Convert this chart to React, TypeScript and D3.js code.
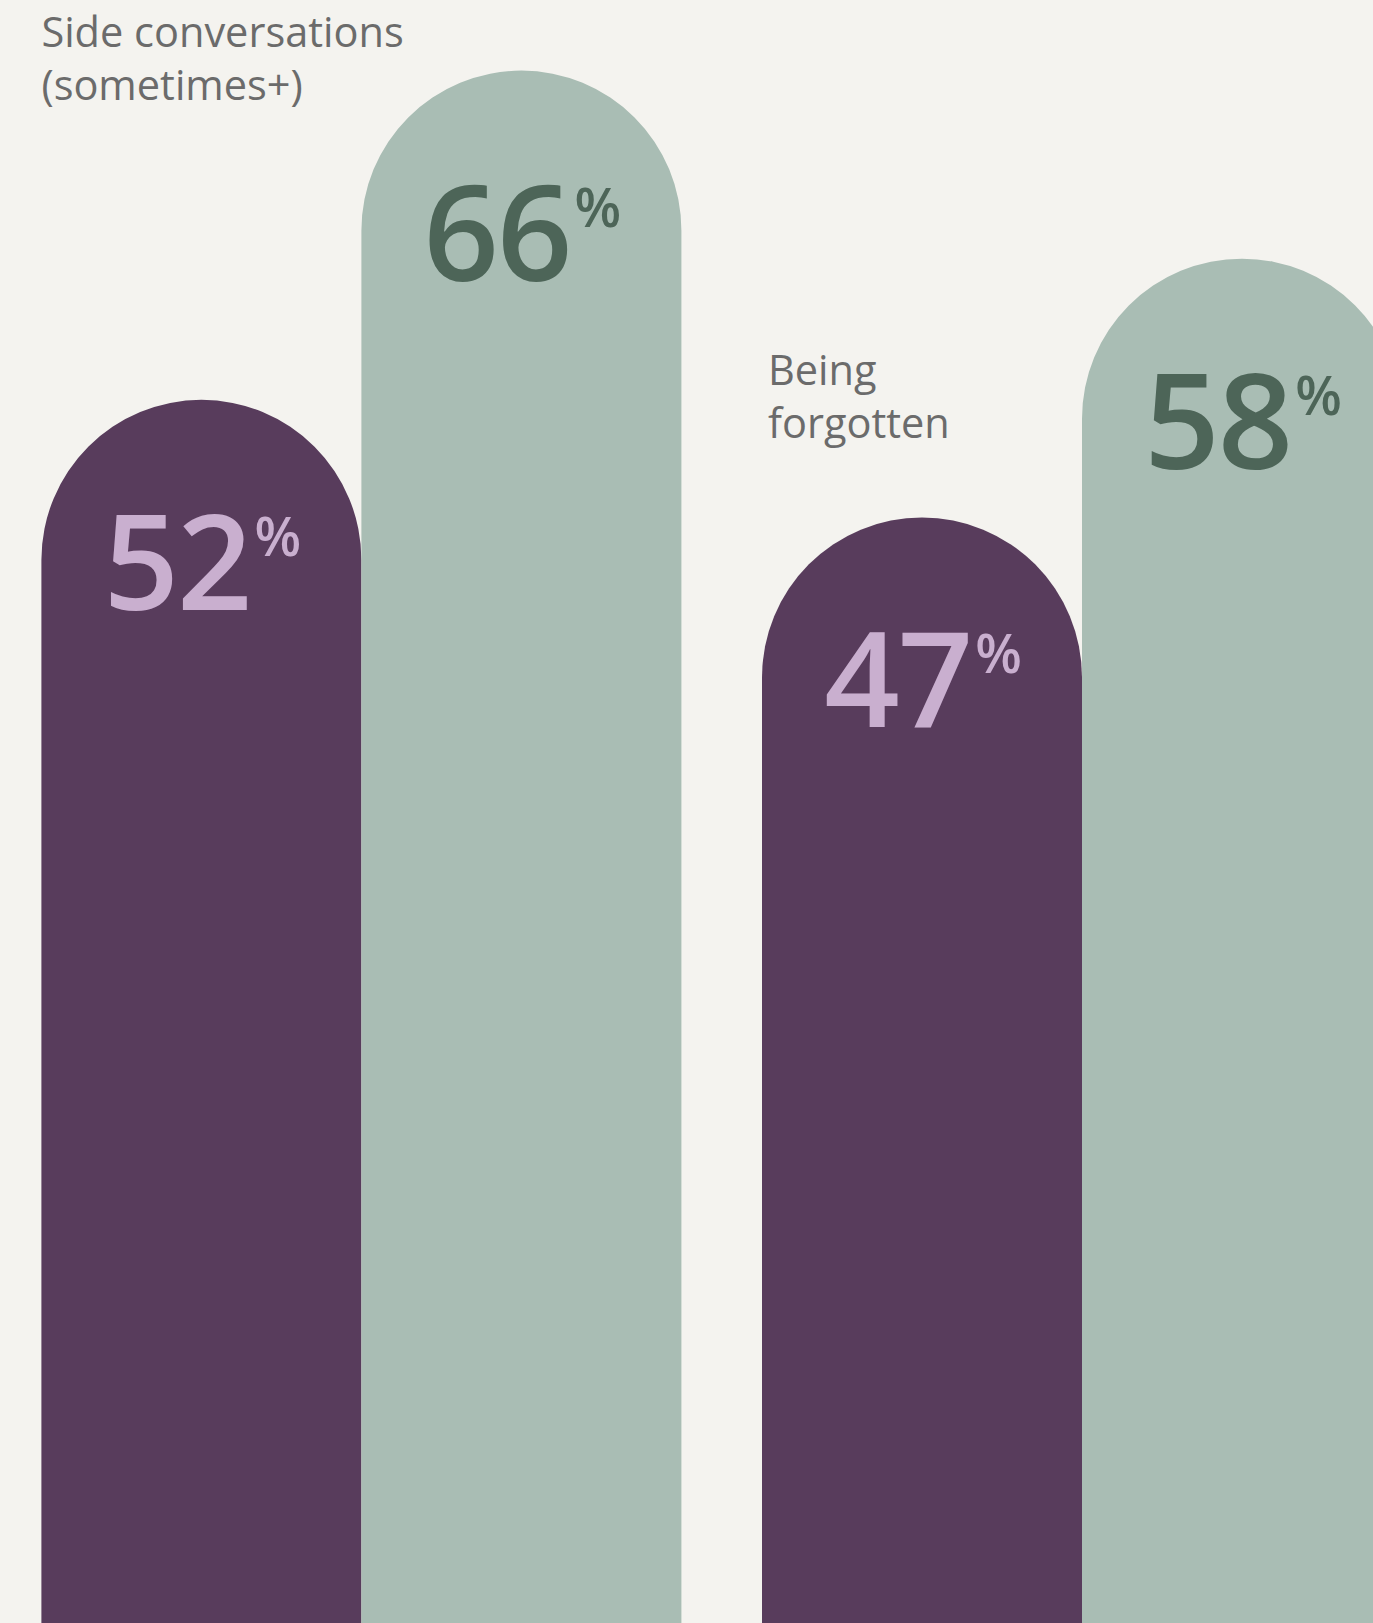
import React from "react";
import * as d3 from "d3";

const categories = ["Side conversations (sometimes+)", "Being forgotten"];
const categoryLines = [["Side conversations", "(sometimes+)"], ["Being", "forgotten"]];
const seriesNames = ["Group A", "Group B"];
const seriesA = [52, 47];
const seriesB = [66, 58];

const W = 1373;
const H = 1623;
const BG = "#f4f3ef";
const barColors = ["#583c5c", "#a9bdb4"];
const textColors = ["#c9afcf", "#4d6558"];
const labelColor = "#6b6b6b";
const FONT = "'Open Sans', 'Noto Sans', sans-serif";
// label placement per category (layout only)
const labelPos = [
  { dx: 0, y: 47 },
  { dx: 6, y: 385 },
];

export default function App() {
  const x0 = d3
    .scaleBand<string>()
    .domain(categories)
    .range([41.4, 1402])
    .paddingInner(80.6 / 720.6)
    .paddingOuter(0);
  const x1 = d3
    .scaleBand<string>()
    .domain(seriesNames)
    .range([0, x0.bandwidth()])
    .padding(0);
  const y = d3.scaleLinear().domain([0, 69]).range([H, 0]);

  const values = [seriesA, seriesB];

  const barPath = (x: number, w: number, v: number) => {
    const top = y(v);
    const r = w / 2;
    const bottom = y(0);
    const p = d3.path();
    p.moveTo(x, bottom);
    p.lineTo(x, top + r);
    p.arc(x + r, top + r, r, Math.PI, 0, false);
    p.lineTo(x + w, bottom);
    p.closePath();
    return p.toString();
  };

  return (
    <svg
      width={W}
      height={H}
      style={{ position: "absolute", left: 0, top: 0, background: BG }}
    >
      <rect x={0} y={0} width={W} height={H} fill={BG} />
      {categories.map((c, ci) => (
        <g key={c}>
          {seriesNames.map((s, si) => {
            const x = (x0(c) as number) + (x1(s) as number);
            const w = x1.bandwidth();
            const v = values[si][ci];
            const top = y(v);
            return (
              <g key={s}>
                <path d={barPath(x, w, v)} fill={barColors[si]} />
                <text
                  x={x + w / 2}
                  y={top + w / 2 + 50}
                  textAnchor="middle"
                  fontFamily={FONT}
                  fontWeight={600}
                  fontSize={132}
                  fill={textColors[si]}
                  letterSpacing={-2}
                >
                  {v}
                  <tspan fontSize={54} dx={4} dy={-54}>%</tspan>
                </text>
              </g>
            );
          })}
          <text
            x={(x0(c) as number) + labelPos[ci].dx}
            y={labelPos[ci].y}
            fontFamily={FONT}
            fontSize={41.5}
            fill={labelColor}
          >
            {categoryLines[ci].map((line, li) => (
              <tspan key={li} x={(x0(c) as number) + labelPos[ci].dx} dy={li === 0 ? 0 : 53}>
                {line}
              </tspan>
            ))}
          </text>
        </g>
      ))}
    </svg>
  );
}
